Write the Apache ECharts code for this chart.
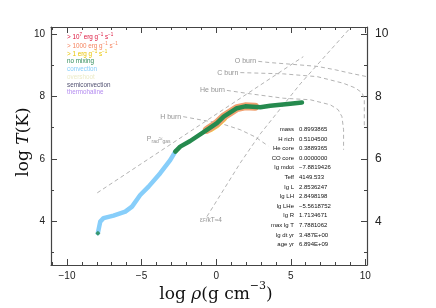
<!DOCTYPE html>
<html><head><meta charset="utf-8">
<script src="https://cdn.jsdelivr.net/npm/echarts@6/dist/echarts.min.js"></script>
<style>html,body{margin:0;padding:0;background:#fff}#c{width:436px;height:308px}</style>
</head><body><div id="c"></div>
<script>
// ---- data (log rho, log T) ----
const convectionTrack = [[-7.93,3.62],[-7.77,3.99],[-7.55,4.10],[-6.88,4.18],[-6.09,4.31],[-5.64,4.47],[-5.09,4.84],[-4.53,5.11],[-3.75,5.54],[-3.08,5.96],[-2.74,6.23]];
const noMixingTrack = [[-2.74,6.23],[-2.41,6.39],[-1.74,6.57],[-0.62,6.93],[0.05,7.14],[0.50,7.35],[1.39,7.62],[1.95,7.68],[2.96,7.65],[3.63,7.70],[4.97,7.76],[5.75,7.80]];
const burnTrack = [[-0.62,6.93],[0.05,7.14],[0.50,7.35],[1.39,7.62],[1.95,7.68],[2.60,7.67]];
const weakBurnTrack = [[-0.40,6.96],[0.05,7.10],[0.50,7.30]];
const startPoint = [[-7.93,3.62]];
const hBurn = [[-2.21,7.35],[-1.07,7.25],[0.27,7.14],[1.62,6.93],[2.62,6.70],[3.49,6.41]];
const heBurn = [[0.72,8.19],[2.29,8.08],[4.50,7.94],[6.31,7.89],[7.65,7.73],[8.18,7.57],[8.43,7.35],[8.54,6.93],[8.54,6.29]];
const cBurn = [[1.62,8.76],[4.50,8.72],[6.78,8.63],[8.52,8.42],[9.32,8.27],[9.79,8.11],[9.93,7.89],[9.93,7.02]];
const oBurn = [[2.82,9.12],[3.62,9.08],[4.97,9.03],[6.76,8.96],[7.99,8.85],[8.99,8.74],[10.11,8.63]];
const pradPgas = [[-7.97,4.91],[5.84,9.27]];
const degeneracy = [[-0.62,4.15],[1.62,5.87],[2.96,6.80],[5.64,8.40],[8.99,10.19]];
const xMajorTicks = [-10,-5,0,5,10];
const xMinorTicks = [-11,-10,-9,-8,-7,-6,-5,-4,-3,-2,-1,0,1,2,3,4,5,6,7,8,9,10];
const yMajorTicks = [4,6,8,10];
const yMinorTicks = [3,4,5,6,7,8,9,10];
const legendItems = ['no mixing','convection','overshoot','semiconvection','thermohaline'];
const infoLabels = ['mass','H rich','He core','CO core','lg mdot','Teff','lg L','lg LH','lg LHe','lg R','max lg T','lg dt yr','age yr'];
const infoValues = ['0.8993865','0.5104500','0.3889365','0.0000000','\u22127.8819426','4149.533','2.8536247','2.8498198','\u22125.5618752','1.7134671','7.7881062','3.487E+00','6.894E+09'];

const XMIN=-11.07, XMAX=10.11, YMIN=2.60, YMAX=10.22;
const axisCol='#444';
const fmt = v => (v<0?'\u2212'+Math.abs(v):String(v));
function xa(pos, major, labels){
  return {type:'value', position:pos, min:XMIN, max:XMAX,
    axisLine:{show:major, onZero:false, lineStyle:{color:axisCol,width:1.2}},
    axisTick:{show:true, inside:true, length:major?6:3, customValues:major?xMajorTicks:xMinorTicks, lineStyle:{color:axisCol,width:1}},
    axisLabel:{show:labels, customValues:xMajorTicks, formatter:fmt, color:'#222', fontSize:10, fontFamily:'Liberation Sans', margin:6},
    splitLine:{show:false}};
}
function ya(pos, major, labels){
  return {type:'value', position:pos, min:YMIN, max:YMAX,
    axisLine:{show:major, onZero:false, lineStyle:{color:axisCol,width:1.2}},
    axisTick:{show:true, inside:true, length:major?6:3, customValues:major?yMajorTicks:yMinorTicks, lineStyle:{color:axisCol,width:1}},
    axisLabel:{show:labels, customValues:yMajorTicks, formatter:fmt, color:'#222', fontSize:pos==='right'?12:10, fontFamily:'Liberation Sans', margin:pos==='right'?8:6},
    splitLine:{show:false}};
}
const dash = {type:[4,3], color:'#a0a0a0', width:0.8};
function dashed(d){return {type:'line', data:d, showSymbol:false, symbol:'none', lineStyle:dash, silent:true, z:1};}
function tag(pt, txt){return {type:'scatter', data:[pt], symbolSize:0, silent:true, z:3,
  label:{show:true, position:'left', distance:2, formatter:txt, color:'#777', fontSize:7, fontFamily:'Liberation Sans'}};}

const chart = echarts.init(document.getElementById('c'), null, {renderer:'canvas'});
const sup = {fontSize:4.5, verticalAlign:'top', lineHeight:8};
const base = {fontSize:6.3, lineHeight:8, verticalAlign:'bottom'};
function legendRich(col){return {a:Object.assign({},base,{fill:col,color:col}), s:Object.assign({},sup,{fill:col,color:col})};}
const legendCols = ['#2e8b57','#87cefa','#ecebc8','#505070','#b48cf0'];
const graphics = [];
graphics.push({type:'text', x:67, y:36.5, style:{text:'{a|> 10}{s|7}{a| erg g}{s|\u22121}{a| s}{s|\u22121}', rich:legendRich('#dc143c'), textVerticalAlign:'middle'}});
graphics.push({type:'text', x:67, y:45, style:{text:'{a|> 1000 erg g}{s|\u22121}{a| s}{s|\u22121}', rich:legendRich('#f5845f'), textVerticalAlign:'middle'}});
graphics.push({type:'text', x:67, y:53.3, style:{text:'{a|> 1 erg g}{s|\u22121}{a| s}{s|\u22121}', rich:legendRich('#e8c400'), textVerticalAlign:'middle'}});
const legY=[61.7,69.4,77.2,85,92.2];
legendItems.forEach((t,i)=>graphics.push({type:'text', x:67, y:legY[i], style:{text:t, fill:legendCols[i], font:'6.3px "Liberation Sans"', textVerticalAlign:'middle'}}));
infoLabels.forEach((t,i)=>{
  const y = 129.5 + i*9.58;
  graphics.push({type:'text', x:294, y:y, style:{text:t, fill:'#111', font:'6px "Liberation Sans"', textAlign:'right', textVerticalAlign:'middle'}});
  graphics.push({type:'text', x:299, y:y, style:{text:infoValues[i], fill:'#111', font:'6px "Liberation Sans"', textAlign:'left', textVerticalAlign:'middle'}});
});
// axis titles
graphics.push({type:'text', x:216, y:292, style:{text:'{n|log }{i|\u03c1}{n|(g cm}{s|\u22123}{n|)}', textAlign:'center', textVerticalAlign:'middle',
  rich:{n:{fontFamily:'DejaVu Serif', fontSize:17, lineHeight:22, verticalAlign:'bottom', fill:'#111'}, i:{fontFamily:'DejaVu Serif', fontStyle:'italic', fontSize:17, lineHeight:22, verticalAlign:'bottom', fill:'#111'}, s:{fontFamily:'DejaVu Serif', fontSize:11, lineHeight:22, verticalAlign:'top', fill:'#111'}}}});
graphics.push({type:'text', x:24, y:142, rotation:Math.PI/2, style:{text:'{n|log }{i|T}{n|(K)}', textAlign:'center', textVerticalAlign:'middle',
  rich:{n:{fontFamily:'DejaVu Serif', fontSize:17, fill:'#111'}, i:{fontFamily:'DejaVu Serif', fontStyle:'italic', fontSize:17, fill:'#111'}}}});

chart.setOption({
  animation:false,
  grid:{left:51, right:69, top:27, bottom:43},
  xAxis:[xa('bottom',true,true), xa('bottom',false,false), xa('top',true,false), xa('top',false,false)],
  yAxis:[ya('left',true,true), ya('left',false,false), ya('right',true,true), ya('right',false,false)],
  series:[
    dashed(hBurn), dashed(heBurn), dashed(cBurn), dashed(oBurn), dashed(pradPgas), dashed(degeneracy),
    tag(hBurn[0],'H burn'), tag(heBurn[0],'He burn'), tag(cBurn[0],'C burn'), tag(oBurn[0],'O burn'),
    {type:'scatter', data:[[-3.85,6.62]], symbolSize:0, silent:true, z:3, label:{show:true, position:'inside', formatter:'{n|P}{b|rad}{n|\u2248}{b|gas}',
      rich:{n:{fontSize:7, color:'#777', fontFamily:'Liberation Sans'}, b:{fontSize:5, color:'#777', fontFamily:'Liberation Sans', verticalAlign:'bottom', padding:[4,0,0,0]}}}},
    {type:'scatter', data:[[-0.35,4.05]], symbolSize:0, silent:true, z:3, label:{show:true, position:'inside', formatter:'{n|\u03b5}{b|F}{n|/kT\u22484}',
      rich:{n:{fontSize:6.5, color:'#777', fontFamily:'Liberation Sans'}, b:{fontSize:4.5, color:'#777', fontFamily:'Liberation Sans', padding:[3,0,0,0]}}}},
    {type:'line', data:weakBurnTrack, showSymbol:false, lineStyle:{color:'#f0d040', width:7, cap:'round', join:'round'}, z:3, silent:true},
    {type:'line', data:burnTrack, showSymbol:false, lineStyle:{color:'#f0a070', width:8, cap:'round', join:'round'}, z:4, silent:true},
    {type:'line', data:convectionTrack, showSymbol:false, lineStyle:{color:'#87cefa', width:4.5, cap:'round', join:'round'}, z:5, silent:true},
    {type:'line', data:noMixingTrack, showSymbol:false, lineStyle:{color:'#258a4e', width:4.5, cap:'round', join:'round'}, z:6, silent:true},
    {type:'scatter', data:startPoint, symbol:'diamond', symbolSize:5, itemStyle:{color:'#258a4e'}, z:7, silent:true}
  ],
  graphic:graphics
});
</script></body></html>
